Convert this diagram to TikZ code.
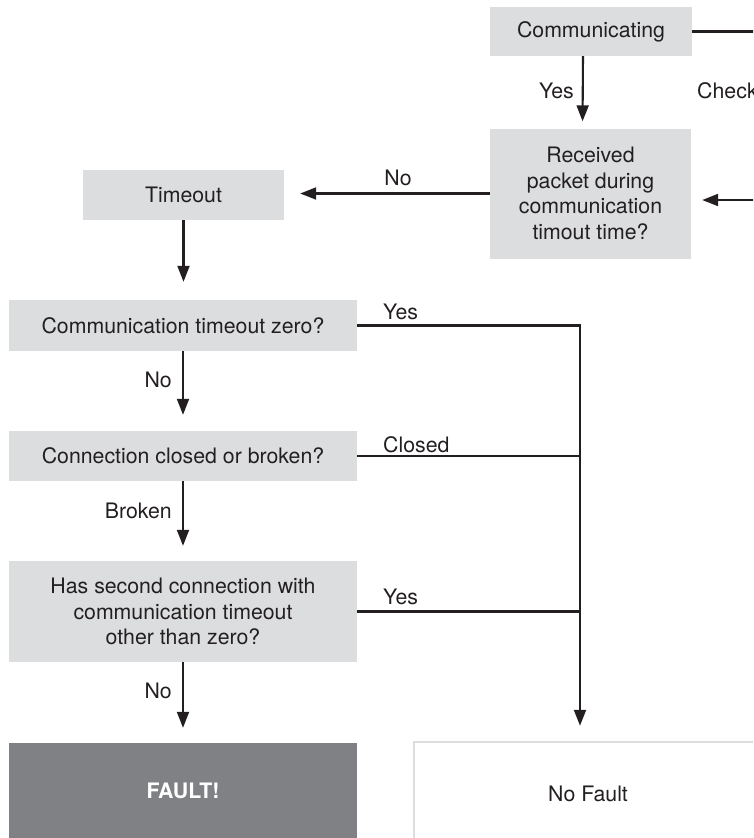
\documentclass[tikz,border=0pt]{standalone}
\usepackage{fontspec}
\setmainfont{TeX Gyre Heros}
\usetikzlibrary{arrows.meta}
\definecolor{boxgray}{HTML}{DCDDDF}
\definecolor{faultgray}{HTML}{808185}
\definecolor{ink}{HTML}{231F20}
\begin{document}
\begin{tikzpicture}[x=1pt,y=-1pt,
  every node/.style={font=\fontsize{21.3}{25.5}\selectfont, text=ink},
  box/.style={fill=boxgray, inner sep=0pt, align=center},
  line/.style={draw=ink, line width=2.1pt},
  arr/.style={line, -{Triangle[length=16pt,width=12pt]}},
  lbl/.style={inner sep=0pt}]
\useasboundingbox (0,0) rectangle (753,838);
\clip (0,0) rectangle (753,838);

% process boxes
\node[box, minimum width=202pt, minimum height=49pt] (comm) at (591,31.5) {Communicating};
\node[box, minimum width=201pt, minimum height=130pt] (recv) at (590.5,193.5)
  {Received\\packet during\\communication\\timout time?};
\node[box, minimum width=201pt, minimum height=50pt] (tout) at (183.5,195) {Timeout};
\node[box, minimum width=348pt, minimum height=51pt] (czero) at (183,325.5) {Communication timeout zero?};
\node[box, minimum width=348pt, minimum height=50pt] (cclosed) at (183,456) {Connection closed or broken?};
\node[box, minimum width=348pt, minimum height=101pt] (second) at (183,611.5)
  {Has second connection with\\communication timeout\\other than zero?};
\node[fill=faultgray, inner sep=0pt, minimum width=348pt, minimum height=96pt, text=white,
  font=\fontsize{21.3}{25.5}\selectfont\bfseries] (fault) at (183,791) {FAULT!};
\node[draw=boxgray, line width=2.5pt, fill=white, inner sep=0pt,
  minimum width=348pt, minimum height=104pt] (nofault) at (588,794) {No Fault};

% loose ends leaving the right edge
\coordinate (outR) at (765,32);
\coordinate (inR) at (765,200);
\coordinate (bus) at (580,0);

% connectors
\draw[arr, shorten >=7pt] ([xshift=-8pt]comm.south) -- ([xshift=-8pt]recv.north);
\draw[line] (comm.east) -- (comm.east -| outR);
\draw[arr, shorten >=11pt] (inR) -- (inR -| recv.east);
\draw[arr, shorten >=16pt] (recv.west) -- (recv.west -| tout.east);
\draw[arr, shorten >=18pt] (tout.south) -- (tout.south |- czero.north);
\draw[arr, shorten >=16pt] (czero.south) -- (cclosed.north);
\draw[arr, shorten >=15pt] (cclosed.south) -- (second.north);
\draw[arr, shorten >=15pt] (second.south) -- (fault.north);
\draw[arr, shorten >=15pt] (czero.east) -- (czero.east -| bus) -- (bus |- nofault.north);
\draw[line] (cclosed.east) -- (cclosed.east -| bus);
\draw[line] (second.east) -- (second.east -| bus);

% connector labels
\node[lbl, anchor=east] (lyes0) at (574,91) {Yes};
\node[lbl, anchor=west] (lcheck) at (697,91) {Check};
\node[lbl] (lno0) at (398,178) {No};
\node[lbl, anchor=west] (lyes1) at (383,312) {Yes};
\node[lbl, anchor=east] (lno1) at (172,380) {No};
\node[lbl, anchor=west] (lclosed) at (383,445) {Closed};
\node[lbl, anchor=east] (lbroken) at (172,511) {Broken};
\node[lbl, anchor=west] (lyes2) at (383,597) {Yes};
\node[lbl, anchor=east] (lno2) at (172,691) {No};
\end{tikzpicture}
\end{document}
